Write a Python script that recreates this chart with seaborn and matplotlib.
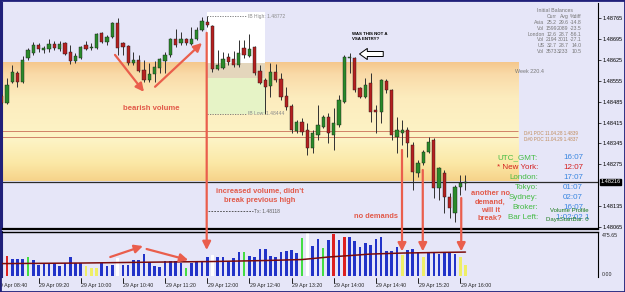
import numpy as np
import pandas as pd
import matplotlib
matplotlib.use("Agg")
import matplotlib.pyplot as plt
import matplotlib.transforms as mtransforms
from matplotlib.colors import LinearSegmentedColormap
from matplotlib.patches import ConnectionPatch, Rectangle
import seaborn as sns

sns.set_style("white")
plt.rcParams["font.family"] = ["Liberation Sans", "DejaVu Sans"]

# ---------------- data ----------------
bar_idx = list(range(89))  # 5-minute bars, 0 = 29 Apr 08:45

opens = [
    1.48504, 1.48481, 1.48551, 1.48582, 1.48551, 1.48632, 1.48649, 1.48675, 1.48659, 1.48662,
    1.48679, 1.48662, 1.48682, 1.48652, 1.48622, 1.48632, 1.48675, 1.48665, 1.48665, 1.48716,
    1.48686, 1.48702, 1.48749, 1.48682, 1.48672, 1.48615, 1.48625, 1.48592, 1.48558, 1.48578,
    1.48598, 1.48622, 1.48642, 1.48696, 1.48682, 1.48696, 1.48679, 1.48696, 1.48726, 1.48753,
    1.48739, 1.48595, 1.48598, 1.48635, 1.48629, 1.48608, 1.48665, 1.48639, 1.48669, 1.48588,
    1.48558, 1.48538, 1.48585, 1.48561, 1.48504, 1.48471, 1.48387, 1.48417, 1.48390, 1.48330,
    1.48374, 1.48400, 1.48434, 1.48374, 1.48407, 1.48484, 1.48632, 1.48632, 1.48531, 1.48501,
    1.48548, 1.48458, 1.48451, 1.48555, 1.48525, 1.48367, 1.48380, 1.48390, 1.48340, 1.48246,
    1.48280, 1.48317, 1.48357, 1.48196, 1.48246, 1.48166, 1.48112, 1.48199, 1.48213]
highs = [
    1.48511, 1.48565, 1.48608, 1.48588, 1.48639, 1.48665, 1.48686, 1.48682, 1.48672, 1.48696,
    1.48689, 1.48689, 1.48686, 1.48675, 1.48649, 1.48672, 1.48689, 1.48682, 1.48716, 1.48719,
    1.48709, 1.48753, 1.48766, 1.48686, 1.48675, 1.48652, 1.48642, 1.48625, 1.48615, 1.48622,
    1.48632, 1.48652, 1.48699, 1.48729, 1.48719, 1.48699, 1.48736, 1.48736, 1.48768, 1.48772,
    1.48743, 1.48659, 1.48652, 1.48649, 1.48655, 1.48692, 1.48692, 1.48712, 1.48672, 1.48608,
    1.48565, 1.48615, 1.48612, 1.48582, 1.48535, 1.48478, 1.48424, 1.48431, 1.48414, 1.48390,
    1.48474, 1.48441, 1.48447, 1.48464, 1.48508, 1.48642, 1.48649, 1.48635, 1.48535, 1.48565,
    1.48582, 1.48474, 1.48561, 1.48561, 1.48528, 1.48434, 1.48424, 1.48400, 1.48350, 1.48290,
    1.48323, 1.48367, 1.48364, 1.48266, 1.48256, 1.48179, 1.48206, 1.48239, 1.48239]
lows = [
    1.48478, 1.48478, 1.48548, 1.48535, 1.48548, 1.48625, 1.48642, 1.48652, 1.48649, 1.48652,
    1.48659, 1.48655, 1.48642, 1.48612, 1.48615, 1.48629, 1.48659, 1.48659, 1.48662, 1.48682,
    1.48675, 1.48699, 1.48642, 1.48642, 1.48608, 1.48608, 1.48585, 1.48551, 1.48551, 1.48551,
    1.48582, 1.48582, 1.48635, 1.48669, 1.48675, 1.48675, 1.48675, 1.48692, 1.48722, 1.48736,
    1.48585, 1.48592, 1.48595, 1.48608, 1.48602, 1.48602, 1.48632, 1.48635, 1.48575, 1.48545,
    1.48444, 1.48501, 1.48551, 1.48491, 1.48458, 1.48380, 1.48380, 1.48374, 1.48307, 1.48313,
    1.48357, 1.48397, 1.48347, 1.48323, 1.48400, 1.48481, 1.48582, 1.48518, 1.48498, 1.48498,
    1.48417, 1.48380, 1.48414, 1.48514, 1.48357, 1.48313, 1.48340, 1.48300, 1.48189, 1.48233,
    1.48273, 1.48313, 1.48162, 1.48156, 1.48112, 1.48095, 1.48082, 1.48172, 1.48189]
closes = [
    1.48481, 1.48541, 1.48585, 1.48551, 1.48625, 1.48659, 1.48675, 1.48662, 1.48665, 1.48679,
    1.48665, 1.48679, 1.48645, 1.48622, 1.48639, 1.48669, 1.48662, 1.48669, 1.48712, 1.48686,
    1.48702, 1.48749, 1.48665, 1.48669, 1.48615, 1.48625, 1.48588, 1.48558, 1.48578, 1.48602,
    1.48629, 1.48642, 1.48696, 1.48675, 1.48696, 1.48682, 1.48696, 1.48726, 1.48756, 1.48743,
    1.48595, 1.48608, 1.48629, 1.48618, 1.48608, 1.48649, 1.48642, 1.48662, 1.48582, 1.48548,
    1.48535, 1.48585, 1.48558, 1.48501, 1.48468, 1.48390, 1.48417, 1.48384, 1.48330, 1.48380,
    1.48407, 1.48434, 1.48380, 1.48414, 1.48491, 1.48635, 1.48635, 1.48525, 1.48501, 1.48541,
    1.48451, 1.48451, 1.48558, 1.48525, 1.48374, 1.48390, 1.48390, 1.48347, 1.48250, 1.48280,
    1.48317, 1.48350, 1.48196, 1.48263, 1.48166, 1.48129, 1.48199, 1.48213, 1.48216]

volumes = [
    215, 223, 189, 189, 189, 215, 178, 123, 141, 145,
    145, 111, 145, 212, 145, 145, 111, 89, 89, 145,
    115, 123, 200, 123, 123, 178, 178, 245, 159, 111,
    104, 170, 170, 170, 145, 89, 145, 159, 159, 212,
    234, 215, 212, 159, 200, 271, 264, 223, 212, 297,
    297, 223, 212, 271, 282, 290, 253, 420, 475.65, 334,
    409, 309, 401, 468, 401, 431, 431, 393, 326, 371,
    345, 409, 431, 282, 282, 326, 234, 290, 297, 271,
    208, 271, 253, 245, 271, 271, 245, 215, 123]
vol_class = (["climax"] + ["high"] + ["normal"] * 3 + ["churn"] + ["normal"] * 10 +
             ["low"] * 3 + ["normal"] * 3 + ["white"] + ["normal"] * 12 + ["churn"] +
             ["normal"] * 4 + ["white"] + ["normal"] * 5 + ["churn"] + ["normal"] * 10 +
             ["churn"] + ["white"] + ["normal"] * 2 + ["churn"] + ["normal"] + ["high"] +
             ["normal"] + ["high"] + ["normal"] * 10 + ["low"] + ["normal"] * 3 + ["low"] +
             ["normal"] * 6 + ["low"] * 2)

ma_idx = [0, 15, 30, 40, 50, 57, 62, 66, 70, 76, 82, 88]
ma_val = [139, 145, 156, 162, 173, 184, 212, 228, 245, 256, 262, 267]

time_tick_idx = [-1, 7, 15, 23, 31, 39, 47, 55, 63, 71, 79, 87]
time_labels = ["29 Apr 08:40", "29 Apr 09:20", "29 Apr 10:00", "29 Apr 10:40",
               "29 Apr 11:20", "29 Apr 12:00", "29 Apr 12:40", "29 Apr 13:20",
               "29 Apr 14:00", "29 Apr 14:40", "29 Apr 15:20", "29 Apr 16:00"]
price_ticks = [1.48765, 1.48695, 1.48625, 1.48555, 1.48485, 1.48415, 1.48345,
               1.48275, 1.48135, 1.48065]
current_price = 1.48216
vol_scale_labels = ["475.65", "0.00"]
ib_high = 1.48772
ib_low = 1.48444
tx_level = 1.48118
poc_levels = [1.48387, 1.48367]
poc_labels = ["D#1 POC 11.04.28 1.4839", "D#0 POC 11.04.29 1.4837"]
va_top, va_bottom = 1.48615, 1.48219

ib_rows = [("Asia", "25.2", "29.6", "-14.8"), ("Vol", "1599", "2089", "-23.5"),
           ("London", "12.6", "28.7", "-56.1"), ("Vol", "2194", "3011", "-27.1"),
           ("US", "32.7", "28.7", "14.0"), ("Vol", "3573", "3233", "10.5")]
clock_rows = [("UTC_GMT:", "16:07"), ("* New York:", "12:07"), ("London:", "17:07"),
              ("Tokyo:", "01:07"), ("Sydney:", "02:07"), ("Broker:", "16:07"),
              ("Bar Left:", "1:02:02 1")]

# ---------------- style ----------------
BG = "#e6e6f8"
GREEN_C, RED_C = "#2a8a2a", "#b52020"
ANN = "#ea5e4c"
vol_palette = {"normal": "#2233c8", "high": "#dd2020", "churn": "#44dd44",
               "low": "#eeee66", "white": "#ffffff", "climax": "#a02288"}

W, H = 625, 292
fx = lambda px: px / W
fy = lambda py: 1 - py / H

fig = plt.figure(figsize=(6.25, 2.92), dpi=100, facecolor=BG)
ax = fig.add_axes([fx(2), fy(229), (598 - 2) / W, (229 - 3) / H])
axv = fig.add_axes([fx(2), fy(277), (598 - 2) / W, (277 - 232) / H])
XL = (0.06, 113.15)
YL = (1.48058, 1.48816)

for a in (ax, axv):
    a.set_facecolor(BG)

# value-area band (gradient)
cmap = LinearSegmentedColormap.from_list(
    "band", [(0, "#f5c78c"), (0.1, "#f9daa8"), (0.3, "#fcecbe"), (0.65, "#fdf4c6"),
             (0.85, "#fbe8a6"), (1.0, "#f6d38a")])
ax.imshow(np.linspace(0, 1, 256).reshape(-1, 1), cmap=cmap, aspect="auto",
          extent=[XL[0], 98.0, va_bottom, va_top], origin="upper", zorder=0.5)

# initial-balance box
ax.add_patch(Rectangle((38.9, va_top), 11.1, 1.48786 - va_top, fc="white", ec="none", zorder=0.6))
ax.add_patch(Rectangle((38.9, 1.48565), 11.1, va_top - 1.48565, fc="#e4d6bc", ec="none", zorder=0.6))
ax.add_patch(Rectangle((38.9, ib_low), 11.1, 1.48565 - ib_low, fc="#e6f3c6", ec="none", zorder=0.6))
ax.hlines([ib_high, ib_low], 38.9, 46.6, colors="#707070", lw=0.6, linestyles=(0, (1.5, 1.5)), zorder=1)
ax.text(46.8, ib_high, f"IB High: {ib_high:.5f}", fontsize=3.6, color="#8a8a8a", va="center", zorder=1)
ax.text(46.8, ib_low, f"IB Low: {ib_low:.5f}", fontsize=3.6, color="#8a8a8a", va="center", zorder=1)
ax.hlines(tx_level, 39.2, 47.6, colors="#404040", lw=0.6, linestyles=(0, (2, 1.5)), zorder=1)
ax.text(47.9, tx_level, f"Tx: {tx_level:.5f}", fontsize=3.6, color="#606060", va="center", zorder=1)

# POC lines
ax.hlines(poc_levels, XL[0], 98.0, colors="#c9705a", lw=0.6, zorder=1)
for lv, lab in zip(poc_levels, poc_labels):
    ax.text(99.2, lv - 0.00009, lab, fontsize=3.3, color="#c08a58", va="center", zorder=1)

# bid line
ax.axhline(current_price, color="#2a2a2a", lw=0.9, zorder=1.2)

# candles
o = np.array(opens); c = np.array(closes)
bull = c >= o
ax.vlines(bar_idx, lows, highs, colors="#303030", lw=0.7, zorder=3)
ax.bar(bar_idx, np.abs(c - o), bottom=np.minimum(o, c), width=0.62,
       color=[GREEN_C if b else RED_C for b in bull], edgecolor="#1a1a1a", linewidth=0.3, zorder=4)

ax.set_xlim(*XL); ax.set_ylim(*YL)

# volume
df = pd.DataFrame({"bar": bar_idx, "vol": volumes, "cls": vol_class})
sns.barplot(data=df, x="bar", y="vol", hue="cls", palette=vol_palette, native_scale=True,
            dodge=False, width=0.5, saturation=1, legend=False, errorbar=None,
            linewidth=0, ax=axv, zorder=2)
sns.lineplot(x=ma_idx, y=ma_val, ax=axv, color="#7a0c0c", lw=1.1, legend=False, zorder=3)
axv.set_xlim(*XL); axv.set_ylim(-10, 490)
axv.set_xlabel(""); axv.set_ylabel("")
axv.set_xticks([]); axv.set_yticks([])

# axes cosmetics
ax.yaxis.tick_right()
ax.set_yticks(price_ticks)
ax.set_yticklabels([f"{p:.5f}" for p in price_ticks])
ax.tick_params(axis="y", labelsize=4, pad=1.5, length=2, width=0.5, colors="black")
ax.set_xticks([])
for s in ("top",):
    ax.spines[s].set_visible(False)
ax.spines["left"].set_color("#20207a"); ax.spines["left"].set_linewidth(1.5)
ax.spines["bottom"].set_color("black"); ax.spines["bottom"].set_linewidth(1.6)
ax.spines["right"].set_color("black"); ax.spines["right"].set_linewidth(0.8)
axv.spines["top"].set_color("black"); axv.spines["top"].set_linewidth(1.0)
axv.spines["left"].set_color("#20207a"); axv.spines["left"].set_linewidth(1.5)
axv.spines["right"].set_color("black"); axv.spines["right"].set_linewidth(0.8)
axv.spines["bottom"].set_visible(False)

ax.text(1.004, current_price, f"{current_price:.5f}", transform=mtransforms.blended_transform_factory(ax.transAxes, ax.transData),
        fontsize=4, color="white", va="center", ha="left",
        bbox=dict(boxstyle="square,pad=0.15", fc="black", ec="black"), clip_on=False, zorder=10)
axv.text(1.006, 0.93, vol_scale_labels[0], transform=axv.transAxes, fontsize=3.8, va="center", ha="left")
axv.text(1.006, 0.05, vol_scale_labels[1], transform=axv.transAxes, fontsize=3.8, va="center", ha="left")

# time axis
bt = mtransforms.blended_transform_factory(axv.transData, axv.transAxes)
for i, lab in zip(time_tick_idx, time_labels):
    axv.plot([i, i], [-0.03, -0.13], transform=bt, color="black", lw=0.6, clip_on=False)
    axv.text(i + 0.1, -0.19, lab, transform=bt, fontsize=3.8, ha="left", va="center", clip_on=False)

# ---------------- annotations ----------------
arrow_kw = dict(arrowstyle="-|>,head_length=0.7,head_width=0.35", color=ANN, lw=1.6,
                mutation_scale=7, shrinkA=0, shrinkB=0)
ax.annotate("", xy=(27.0, 1.48518), xytext=(21.5, 1.48642), arrowprops=arrow_kw, zorder=6)
ax.annotate("", xy=(38.0, 1.48682), xytext=(29.1, 1.48535), arrowprops=arrow_kw, zorder=6)
axv.annotate("", xy=(26.8, 334), xytext=(20.6, 212), arrowprops=arrow_kw, zorder=6)
axv.annotate("", xy=(35.4, 178), xytext=(27.5, 301), arrowprops=arrow_kw, zorder=6)

for xb, p0, v1 in [(38.9, 1.48716, 290), (75.96, 1.48323, 275), (79.9, 1.48256, 275), (87.2, 1.48162, 275)]:
    cp = ConnectionPatch(xyA=(xb, p0), coordsA=ax.transData, xyB=(xb, v1), coordsB=axv.transData,
                         arrowstyle="-|>,head_length=0.7,head_width=0.35", color=ANN, lw=1.6,
                         mutation_scale=7, shrinkA=0, shrinkB=0, zorder=20)
    fig.add_artist(cp)

tk = dict(color="#e25a4a", fontweight="bold", ha="center", va="center", zorder=7)
ax.text(28.3, 1.48461, "bearish volume", fontsize=5.6, **tk)
ax.text(49.0, 1.48169, "increased volume, didn't\nbreak previous high", fontsize=5.4, linespacing=1.25, **tk)
ax.text(71.0, 1.48099, "no demands", fontsize=5.4, **tk)
ax.text(92.7, 1.48135, "another no\ndemand,\nwill it\nbreak?", fontsize=5.4, linespacing=1.22, **tk)

ax.text(66.4, 1.48705, "WAS THIS NOT A\nVSA ENTRY?", fontsize=3.2, fontweight="bold", color="black",
        ha="left", va="center", linespacing=1.3, zorder=7)
ax.annotate("", xy=(67.9, 1.48645), xytext=(72.4, 1.48645),
            arrowprops=dict(arrowstyle="simple,head_length=0.7,head_width=1.0,tail_width=0.45",
                            fc="white", ec="black", lw=0.7, mutation_scale=8, shrinkA=0, shrinkB=0), zorder=7)

# initial balances table
gray = "#767676"
fig.text(fx(555), fy(11), "Initial Balances", fontsize=3.8, color=gray, ha="center", va="center")
for txt, xr in [("Curr", 557), ("Avg", 568.5), ("%diff", 582)]:
    fig.text(fx(xr), fy(16.7), txt, fontsize=3.7, color=gray, ha="right", va="center")
for k, (lab, cu, av, df_) in enumerate(ib_rows):
    yy = fy(22.7 + k * 5.67)
    for txt, xr in [(lab, 544.5), (cu, 557), (av, 568.5), (df_, 582)]:
        fig.text(fx(xr), yy, txt, fontsize=3.7, color=gray, ha="right", va="center")
fig.text(fx(515), fy(71.7), "Week 220.4", fontsize=3.9, color=gray, ha="left", va="center")

# clocks
for k, (lab, val) in enumerate(clock_rows):
    yy = fy(157.3 + k * 10)
    lc, vc = ("#d42020", "#d42020") if k == 1 else ("#44bb44", "#3a86e0")
    fig.text(fx(538), yy, lab, fontsize=5.8, color=lc, ha="right", va="center")
    fig.text(fx(573), yy, val, fontsize=5.8, color=vc, ha="center", va="center")
fig.text(fx(569), fy(210.7), "Volume Profile", fontsize=4.3, color="#1a7a1a", ha="center", va="center")
fig.text(fx(567), fy(220), "DaysStartBar: 0", fontsize=4.3, color="#1a7a1a", ha="center", va="center")

# outer frame
fig.add_artist(Rectangle((0, 0), 1, 1, transform=fig.transFigure, fill=False, ec="#20207a", lw=2.0))

fig.savefig("out.png", dpi=100, facecolor=BG)
